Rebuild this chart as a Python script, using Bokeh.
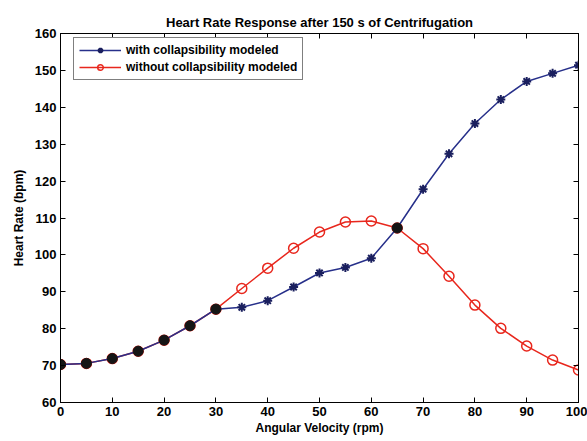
import numpy as np
from bokeh.plotting import figure
from bokeh.models import LinearAxis, Legend, LegendItem, ColumnDataSource, Range1d, FixedTicker, Title
from bokeh.models import CustomJSTickFormatter
from bokeh.embed import file_html
from bokeh.resources import INLINE

# ---- data ----
rpm = [0, 5, 10, 15, 20, 25, 30, 35, 40, 45, 50, 55, 60, 65, 70, 75, 80, 85, 90, 95, 100]
hr_with = [70.3, 70.6, 71.9, 73.9, 76.9, 80.8, 85.3, 85.8, 87.6, 91.3, 95.1, 96.6, 99.1,
           107.3, 117.8, 127.4, 135.6, 142.1, 147.0, 149.2, 151.4]
hr_without = [70.3, 70.6, 71.9, 73.9, 76.9, 80.8, 85.3, 90.9, 96.4, 101.8, 106.2, 108.9, 109.2,
              107.3, 101.7, 94.2, 86.4, 80.1, 75.3, 71.5, 68.8]
x_ticks = [0, 10, 20, 30, 40, 50, 60, 70, 80, 90, 100]
y_ticks = [60, 70, 80, 90, 100, 110, 120, 130, 140, 150, 160]

title_text = "Heart Rate Response after 150 s of Centrifugation"
x_label = "Angular Velocity (rpm)"
y_label = "Heart Rate (bpm)"
label_with = "with collapsibility modeled"
label_without = "without collapsibility modeled"

FONT = "Liberation Sans"
BLUE = "#27308a"
RED = "#e8271d"

p = figure(width=587, height=441, output_backend="svg", toolbar_location=None,
           x_range=Range1d(0, 100), y_range=Range1d(60, 160),
           min_border_left=60, min_border_right=9, min_border_top=33, min_border_bottom=39,
           x_axis_location=None, y_axis_location=None)
p.background_fill_color = "white"
p.border_fill_color = "white"
p.outline_line_color = "black"
p.outline_line_width = 1
p.xgrid.visible = False
p.ygrid.visible = False

def style_axis(ax, ticks, show_labels):
    ax.ticker = FixedTicker(ticks=ticks)
    ax.major_tick_in = 5
    ax.major_tick_out = 0
    ax.minor_tick_line_color = None
    ax.axis_line_color = "black"
    ax.major_tick_line_color = "black"
    ax.major_label_text_font = FONT
    ax.major_label_text_font_style = "bold"
    ax.major_label_text_color = "black"
    if show_labels:
        ax.major_label_text_font_size = "13px"
        ax.major_label_standoff = 4
    else:
        ax.formatter = CustomJSTickFormatter(code="return '';")
        ax.major_label_text_font_size = "1px"
        ax.major_label_text_color = None
        ax.major_label_standoff = 0
    ax.axis_label_text_font = FONT
    ax.axis_label_text_font_style = "bold"
    ax.axis_label_text_font_size = "12px"
    ax.axis_label_text_color = "black"

xb = LinearAxis(axis_label=x_label)
style_axis(xb, x_ticks, True)
xb.axis_label_standoff = 2
p.add_layout(xb, "below")
yl = LinearAxis(axis_label=y_label)
style_axis(yl, y_ticks, True)
yl.axis_label_standoff = 6
p.add_layout(yl, "left")
xt = LinearAxis()
style_axis(xt, x_ticks, False)
p.add_layout(xt, "above")
yr = LinearAxis()
style_axis(yr, y_ticks, False)
p.add_layout(yr, "right")

t = Title(text=title_text, align="center", text_font=FONT, text_font_style="bold",
          text_font_size="13px", text_color="black", standoff=8)
p.add_layout(t, "above")

src = ColumnDataSource(dict(x=rpm, w=hr_with, wo=hr_without))

r_wo_line = p.line("x", "wo", source=src, line_color=RED, line_width=1.5)
r_wo_mark = p.scatter("x", "wo", source=src, marker="circle", size=10, fill_color=None,
                      line_color=RED, line_width=1.5)
r_w_line = p.line("x", "w", source=src, line_color=BLUE, line_width=1.5)
r_w_mark = p.scatter("x", "w", source=src, marker="asterisk", size=9, line_color="#1a1f5e",
                     line_width=2)

# where the two series coincide the markers merge into dark dots
w_arr = np.array(hr_with)
wo_arr = np.array(hr_without)
same = np.abs(w_arr - wo_arr) < 0.05
ov = ColumnDataSource(dict(x=np.array(rpm)[same], y=w_arr[same]))
p.scatter("x", "y", source=ov, marker="circle", size=10, fill_color="#151515",
          line_color="#151515")

legend = Legend(items=[LegendItem(label=label_with, renderers=[r_w_line, r_w_mark]),
                       LegendItem(label=label_without, renderers=[r_wo_line, r_wo_mark])],
                location=(13, 322), margin=0, padding=5, spacing=3,
                glyph_width=42, glyph_height=14, label_standoff=5, label_height=14,
                label_text_font=FONT, label_text_font_style="bold", label_text_font_size="12px",
                label_text_color="black", border_line_color="black", border_line_width=1,
                background_fill_color="white", background_fill_alpha=1.0)
p.add_layout(legend, "center")

open("out.html", "w").write(file_html(p, INLINE))
